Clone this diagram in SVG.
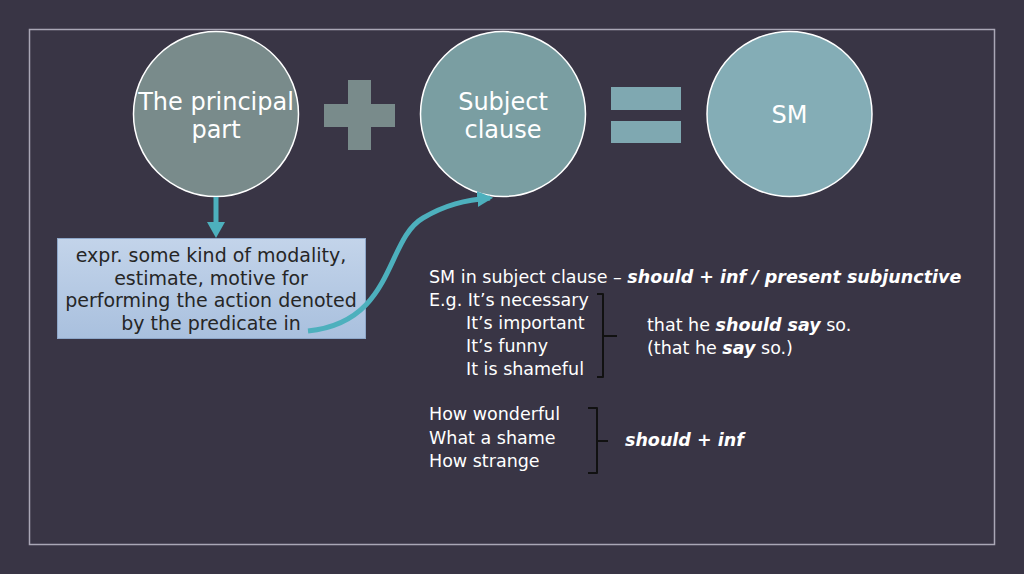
<svg xmlns="http://www.w3.org/2000/svg" width="1024" height="574" viewBox="0 0 1024 574">
<defs>
<style>
.ctext{font-family:"DejaVu Sans","Liberation Sans",sans-serif;font-size:24px;fill:#ffffff;text-anchor:middle}
.btext{font-family:"DejaVu Sans","Liberation Sans",sans-serif;font-size:19px;fill:#262626;text-anchor:middle}
.rtext{font-family:"DejaVu Sans","Liberation Sans",sans-serif;font-size:17.5px;fill:#ffffff}
.bi{font-weight:bold;font-style:italic}
.brace{fill:none;stroke:#111111;stroke-width:2;stroke-linejoin:round}
.conn{fill:none;stroke:#4db0bd;stroke-width:5}
</style>
<linearGradient id="boxg" x1="0" y1="0" x2="0" y2="1">
<stop offset="0" stop-color="#c3d4ea"/>
<stop offset="1" stop-color="#a9c0de"/>
</linearGradient>
<marker id="ah" viewBox="0 0 10 10" refX="8" refY="5" markerWidth="3.2" markerHeight="3.2" orient="auto" markerUnits="strokeWidth">
<path d="M0,0 L10,5 L0,10 Z" fill="#4db0bd"/>
</marker>
</defs>
<rect x="0" y="0" width="1024" height="574" fill="#393545"/>
<rect x="29.5" y="29.5" width="965" height="515" fill="none" stroke="#aaa7b6" stroke-width="1.5"/>

<g id="principal">
<circle cx="216" cy="114" r="82.5" fill="#798b8b" stroke="#ffffff" stroke-width="1.5"/>
<text class="ctext" x="216" y="110">The principal</text>
<text class="ctext" x="216" y="138">part</text>
</g>

<g id="plus">
<rect x="348" y="80" width="23" height="70" fill="#798b8b"/>
<rect x="324" y="104" width="71" height="23" fill="#798b8b"/>
</g>

<g id="subject">
<circle cx="503" cy="114" r="82.5" fill="#7a9ea2" stroke="#ffffff" stroke-width="1.5"/>
<text class="ctext" x="503" y="110">Subject</text>
<text class="ctext" x="503" y="138">clause</text>
</g>

<g id="equals">
<rect x="611" y="87" width="70" height="23" fill="#7fa8b1"/>
<rect x="611" y="121" width="70" height="22" fill="#7fa8b1"/>
</g>

<g id="sm">
<circle cx="789.5" cy="114" r="82.5" fill="#84adb6" stroke="#ffffff" stroke-width="1.5"/>
<text class="ctext" x="789.5" y="123">SM</text>
</g>

<g id="box">
<rect x="57.5" y="238.5" width="308" height="100" fill="url(#boxg)" stroke="#8ea7c9" stroke-width="1"/>
<text class="btext" x="211" y="262">expr. some kind of modality,</text>
<text class="btext" x="211" y="284.5">estimate, motive for</text>
<text class="btext" x="211" y="307">performing the action denoted</text>
<text class="btext" x="211" y="330">by the predicate in</text>
</g>

<g id="connectors">
<line class="conn" x1="216" y1="197" x2="216" y2="224"/>
<path d="M207,222 L225,222 L216,238 Z" fill="#4db0bd"/>
<path class="conn" d="M308,331 C395,322 385,240 423,218 C445,205 465,200 490,198" marker-end="url(#ah)"/>
</g>

<g id="examples">
<text class="rtext" x="429" y="283">SM in subject clause – <tspan class="bi">should + inf / present subjunctive</tspan></text>
<text class="rtext" x="429" y="306">E.g. It’s necessary</text>
<text class="rtext" x="466" y="329">It’s important</text>
<text class="rtext" x="466" y="352">It’s funny</text>
<text class="rtext" x="466" y="375">It is shameful</text>
<path class="brace" d="M597,294 L603,294 L603,336 L617,336 M603,336 L603,377 L597,377"/>
<text class="rtext" x="647" y="331">that he <tspan class="bi">should say</tspan> so.</text>
<text class="rtext" x="647" y="354">(that he <tspan class="bi">say</tspan> so.)</text>
<text class="rtext" x="429" y="420">How wonderful</text>
<text class="rtext" x="429" y="444">What a shame</text>
<text class="rtext" x="429" y="467">How strange</text>
<path class="brace" d="M588,408 L597,408 L597,441 L608,441 M597,441 L597,473 L588,473"/>
<text class="rtext bi" x="625" y="446">should + inf</text>
</g>
</svg>
